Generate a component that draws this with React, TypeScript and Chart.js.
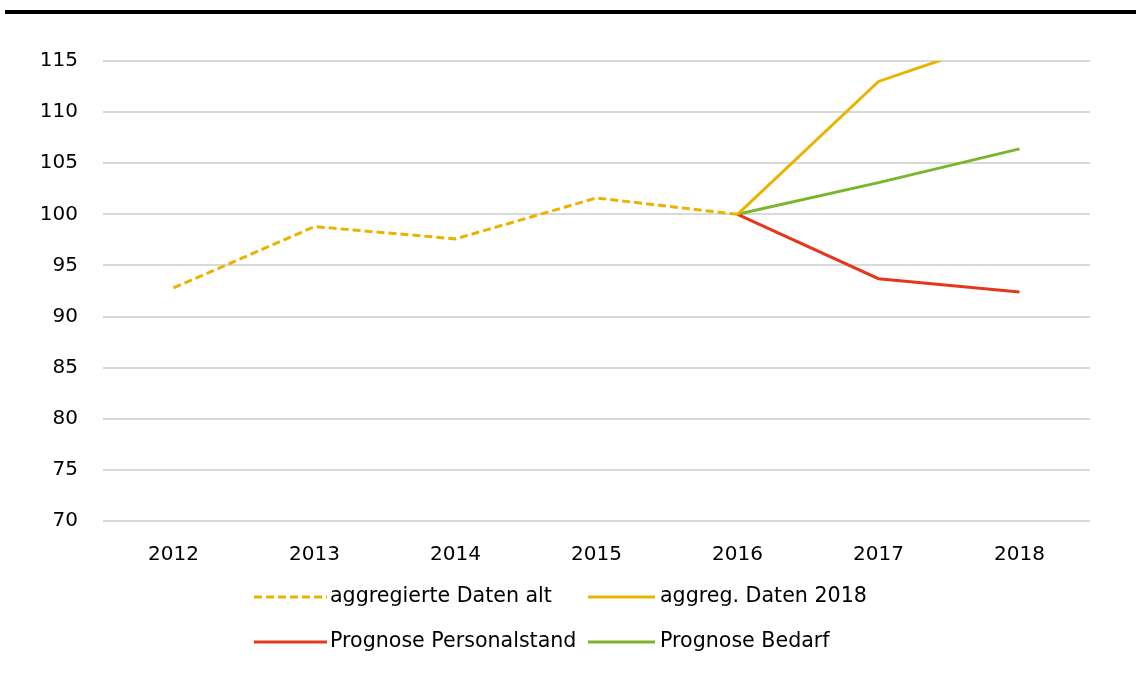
import React, { useEffect, useRef } from "react";
import { Chart, registerables } from "chart.js";

Chart.register(...registerables);

const categories = ["2012", "2013", "2014", "2015", "2016", "2017", "2018"];
const aggregiertAlt = [92.8, 98.8, 97.6, 101.6, 100, null, null];
const aggreg2018 = [null, null, null, null, 100, 113.0, 117.7];
const prognosePersonal = [null, null, null, null, 100, 93.7, 92.4];
const prognoseBedarf = [null, null, null, null, 100, 103.1, 106.4];
const seriesNames = [
  "aggregierte Daten alt",
  "aggreg. Daten 2018",
  "Prognose Personalstand",
  "Prognose Bedarf",
];

const FONT = "'DejaVu Sans', sans-serif";
const YELLOW = "#e9b400";
const RED = "#e4381e";
const GREEN = "#7ab52a";

const gridLegend = {
  id: "gridLegend",
  afterDraw(chart: any) {
    const ctx = chart.ctx;
    const cols = [
      { x: 254, w: 73, tx: 330 },
      { x: 588, w: 67, tx: 660 },
    ];
    const rows = [597, 642];
    ctx.save();
    ctx.font = `20.6px ${FONT}`;
    ctx.textBaseline = "middle";
    ctx.textAlign = "left";
    chart.data.datasets.forEach((ds: any, i: number) => {
      const c = cols[i % 2];
      const y = rows[Math.floor(i / 2)];
      ctx.beginPath();
      ctx.strokeStyle = ds.borderColor;
      ctx.lineWidth = 3;
      ctx.setLineDash(ds.borderDash || []);
      ctx.moveTo(c.x, y);
      ctx.lineTo(c.x + c.w, y);
      ctx.stroke();
      ctx.setLineDash([]);
      ctx.fillStyle = "#000";
      ctx.fillText(ds.label, c.tx, y);
    });
    ctx.restore();
  },
};

export default function App() {
  const ref = useRef<HTMLCanvasElement>(null);
  useEffect(() => {
    const chart = new Chart(ref.current!, {
      type: "line",
      data: {
        labels: categories,
        datasets: [
          { label: seriesNames[0], data: aggregiertAlt, borderColor: YELLOW, borderDash: [8, 4], borderWidth: 3 },
          { label: seriesNames[1], data: aggreg2018, borderColor: YELLOW, borderWidth: 3 },
          { label: seriesNames[2], data: prognosePersonal, borderColor: RED, borderWidth: 3 },
          { label: seriesNames[3], data: prognoseBedarf, borderColor: GREEN, borderWidth: 3 },
        ] as any,
      },
      options: {
        animation: false,
        responsive: false,
        devicePixelRatio: 1,
        spanGaps: false,
        elements: { point: { radius: 0, hoverRadius: 0 }, line: { tension: 0 } },
        layout: { padding: { top: 61, right: 46, bottom: 101, left: 0 } },
        plugins: { legend: { display: false }, tooltip: { enabled: false } },
        scales: {
          x: {
            offset: true,
            grid: { display: false },
            border: { display: false },
            ticks: { color: "#000", padding: 14, font: { family: FONT, size: 20 } },
            afterFit: (s: any) => { s.height = 60; },
          },
          y: {
            min: 70,
            max: 115,
            ticks: { stepSize: 5, color: "#000", padding: 25, font: { family: FONT, size: 20 } },
            grid: { color: "#d9d9d9", lineWidth: 2, drawTicks: false },
            border: { display: false },
            afterFit: (s: any) => { s.width = 103; },
          },
        },
      },
      plugins: [gridLegend],
    });
    return () => chart.destroy();
  }, []);
  return (
    <div style={{ position: "fixed", left: 0, top: 0, width: 1136, height: 682, background: "#fff" }}>
      <div style={{ position: "absolute", left: 5, right: 0, top: 10, height: 4, background: "#000" }} />
      <canvas ref={ref} width={1136} height={682} style={{ position: "absolute", left: 0, top: 0 }} />
    </div>
  );
}
